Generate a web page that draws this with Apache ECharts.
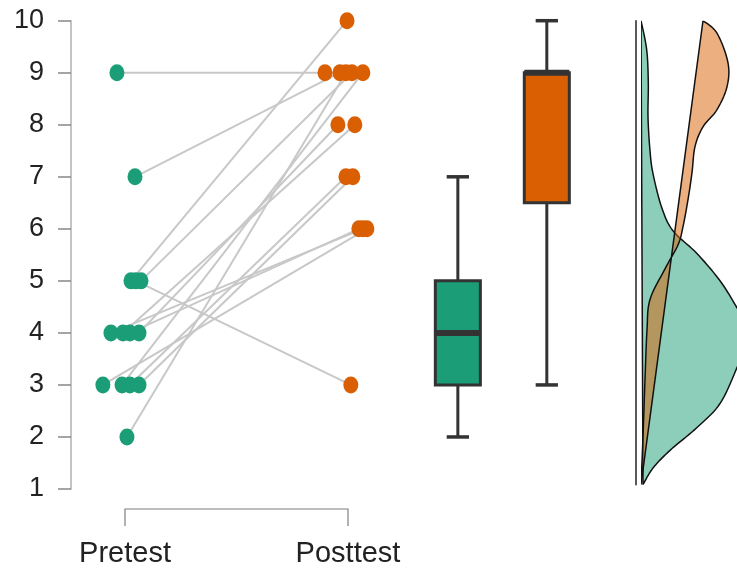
<!DOCTYPE html>
<html>
<head>
<meta charset="utf-8">
<script src="https://cdn.jsdelivr.net/npm/echarts@6/dist/echarts.min.js"></script>
<style>html,body{margin:0;padding:0;background:#fff}#c{width:737px;height:574px}</style>
</head>
<body>
<div id="c"></div>
<script>
// ---- data ----
const categories = ['Pretest', 'Posttest'];
const preValues  = [9, 7, 5, 5, 5, 4, 4, 4, 4, 3, 3, 3, 3, 2];
const preJitter  = [-0.036, 0.045, 0.027, 0.049, 0.072, -0.063, -0.009, 0.022, 0.063, -0.099, -0.013, 0.022, 0.063, 0.009];
const postValues = [9, 9, 10, 3, 9, 6, 8, 6, 8, 6, 9, 7, 7, 9];
const postJitter = [-0.103, -0.036, -0.004, 0.013, 0.018, 0.067, 0.031, 0.049, -0.045, 0.085, 0.067, -0.009, 0.022, -0.009];
// boxplot stats: [min, Q1, median, Q3, max]
const preBox  = [2, 3, 4, 5, 7];
const postBox = [3, 6.5, 9, 9, 10];
// half-density curves (score level, density width)
const preDensLevel  = [10, 9.44, 8.8, 8.15, 7.5, 7.06, 6.41, 5.96, 5.53, 5.0, 4.48, 4.0, 3.33, 2.64, 2.18, 1.74, 1.40, 1.08];
const preDensWidth  = [0, 5.7, 7.3, 7, 9, 12, 20.7, 32, 55.7, 79, 96, 110, 96, 79, 56, 29, 12, 2];
const postDensLevel = [10, 9.76, 9.19, 8.73, 8.29, 7.96, 7.58, 7.08, 6.56, 6.04, 5.69, 5.23, 4.64, 4.06, 3.1, 2.0, 1.08];
const postDensWidth = [62, 76, 87, 86, 76, 62, 54, 51, 47, 42, 37, 24, 9, 6, 4, 2, 0];

// ---- styles / layout ----
const GREEN = '#1b9e77', ORANGE = '#d95f02';
const FONT = 'Liberation Sans, Arial, sans-serif';
const PRE_X = 1, POST_X = 2, BOX_X = [2.493, 2.892];

const pairData = preValues.map((v, i) => [PRE_X + preJitter[i], v, POST_X + postJitter[i], postValues[i]]);
const preData = preValues.map((v, i) => [PRE_X + preJitter[i], v]);
const postData = postValues.map((v, i) => [POST_X + postJitter[i], v]);
const boxData = [[BOX_X[0]].concat(preBox), [BOX_X[1]].concat(postBox)];

function catmull(pts, seg) {
  const out = [];
  for (let i = 0; i < pts.length - 1; i++) {
    const p0 = pts[i - 1] || pts[i], p1 = pts[i], p2 = pts[i + 1], p3 = pts[i + 2] || pts[i + 1];
    for (let t = 0; t < seg; t++) {
      const s = t / seg, s2 = s * s, s3 = s2 * s;
      const f = k => 0.5 * (2 * p1[k] + (-p0[k] + p2[k]) * s + (2 * p0[k] - 5 * p1[k] + 4 * p2[k] - p3[k]) * s2 + (-p0[k] + 3 * p1[k] - 3 * p2[k] + p3[k]) * s3);
      out.push([f(0), f(1)]);
    }
  }
  out.push(pts[pts.length - 1]);
  return out;
}

function densitySeries(levels, widths, fill) {
  return {
    type: 'custom', xAxisIndex: 1, yAxisIndex: 1, clip: true, silent: true,
    data: [[0, 0]],
    renderItem: (params, api) => {
      const pts = levels.map((lv, i) => api.coord([widths[i], lv]));
      return {type: 'polygon', shape: {points: catmull(pts, 10)},
        style: {fill: fill, stroke: '#111', lineWidth: 1.5}};
    }
  };
}

const chart = echarts.init(document.getElementById('c'));
chart.setOption({
  animation: false,
  backgroundColor: '#fff',
  grid: [
    {left: 71, top: 20.7, width: 666, height: 468.3},
    {left: 641, top: 20.7, width: 96, height: 464},
    {left: 125, top: 470, width: 223, height: 39}
  ],
  xAxis: [
    {gridIndex: 0, type: 'value', min: 0.758, max: 3.745, show: false},
    {gridIndex: 1, type: 'value', min: 0, max: 96, show: false},
    {gridIndex: 2, type: 'category', data: categories, boundaryGap: false,
      axisLine: {lineStyle: {color: '#a8a8a8', width: 1.5}},
      axisTick: {length: 17, lineStyle: {color: '#999', width: 1.5}},
      axisLabel: {fontSize: 29, color: '#222', margin: 30, fontFamily: FONT}}
  ],
  yAxis: [
    {gridIndex: 0, type: 'value', min: 1, max: 10, interval: 1,
      axisLine: {show: true, lineStyle: {color: '#b0b0b0', width: 1.5}},
      axisTick: {show: true, length: 13, lineStyle: {color: '#888', width: 1.5}},
      axisLabel: {fontSize: 27, color: '#222', margin: 27, fontFamily: FONT},
      splitLine: {show: false}},
    {gridIndex: 1, type: 'value', min: 1.08, max: 10, offset: 5.5,
      axisLine: {show: true, onZero: false, lineStyle: {color: '#222', width: 1.5}},
      axisTick: {show: false}, axisLabel: {show: false}, splitLine: {show: false}},
    {gridIndex: 2, type: 'value', show: false}
  ],
  series: [
    {type: 'custom', xAxisIndex: 0, yAxisIndex: 0, silent: true, data: pairData,
      renderItem: (params, api) => {
        const a = api.coord([api.value(0), api.value(1)]);
        const b = api.coord([api.value(2), api.value(3)]);
        return {type: 'line', shape: {x1: a[0], y1: a[1], x2: b[0], y2: b[1]},
          style: {stroke: '#c8c8c8', lineWidth: 2}};
      }},
    {type: 'scatter', xAxisIndex: 0, yAxisIndex: 0, data: preData, symbolSize: [15, 17],
      itemStyle: {color: GREEN, opacity: 1}, silent: true},
    {type: 'scatter', xAxisIndex: 0, yAxisIndex: 0, data: postData, symbolSize: [15, 17],
      itemStyle: {color: ORANGE, opacity: 1}, silent: true},
    {type: 'custom', xAxisIndex: 0, yAxisIndex: 0, silent: true, data: boxData,
      renderItem: (params, api) => {
        const x = api.value(0);
        const mn = api.coord([x, api.value(1)]), q1 = api.coord([x, api.value(2)]),
              md = api.coord([x, api.value(3)]), q3 = api.coord([x, api.value(4)]),
              mx = api.coord([x, api.value(5)]);
        const hw = api.size([0.101, 0])[0], cw = api.size([0.05, 0])[0];
        const fill = params.dataIndex === 0 ? GREEN : ORANGE;
        const st = {stroke: '#333', lineWidth: 3};
        const cx = mn[0];
        return {type: 'group', children: [
          {type: 'line', shape: {x1: cx, y1: mn[1], x2: cx, y2: q1[1]}, style: st},
          {type: 'line', shape: {x1: cx, y1: q3[1], x2: cx, y2: mx[1]}, style: st},
          {type: 'line', shape: {x1: cx - cw, y1: mn[1], x2: cx + cw, y2: mn[1]}, style: {stroke: '#333', lineWidth: 3.5}},
          {type: 'line', shape: {x1: cx - cw, y1: mx[1], x2: cx + cw, y2: mx[1]}, style: {stroke: '#333', lineWidth: 3.5}},
          {type: 'rect', shape: {x: cx - hw, y: q3[1], width: 2 * hw, height: q1[1] - q3[1]},
            style: {fill: fill, stroke: '#333', lineWidth: 3}},
          {type: 'line', shape: {x1: cx - hw, y1: md[1], x2: cx + hw, y2: md[1]}, style: {stroke: '#333', lineWidth: 6}}
        ]};
      }},
    densitySeries(preDensLevel, preDensWidth, 'rgba(27,158,119,0.5)'),
    densitySeries(postDensLevel, postDensWidth, 'rgba(217,95,2,0.5)')
  ]
});
</script>
</body>
</html>
